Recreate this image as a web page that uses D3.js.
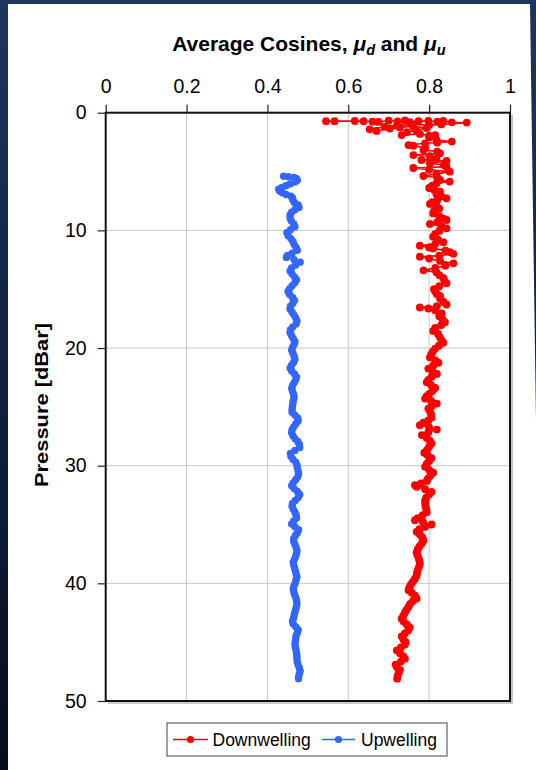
<!DOCTYPE html>
<html>
<head>
<meta charset="utf-8">
<script src="https://cdn.jsdelivr.net/npm/d3@7"></script>
<style>
  html, body { margin: 0; padding: 0; background: #0b1630; }
  svg { display: block; }
  text { font-family: "Liberation Sans", Arial, sans-serif; fill: #000; }
</style>
</head>
<body>
<svg id="chart" width="536" height="770"></svg>
<script>
// Average cosine profiles versus pressure
const xTicks = [0, 0.2, 0.4, 0.6, 0.8, 1];
const xTickLabels = ["0", "0.2", "0.4", "0.6", "0.8", "1"];
const yTicks = [0, 10, 20, 30, 40, 50];
const yTickLabels = ["0", "10", "20", "30", "40", "50"];
const seriesNames = ["Downwelling", "Upwelling"];
const seriesColors = ["#ff0000", "#3366ff"];

// Downwelling average cosine (mu_d): pressure [dBar] and value
const downPressure = [
  0.72, 0.72, 0.70, 0.72, 0.76, 0.78, 0.68, 0.74, 0.66, 0.80, 0.72, 0.70, 0.76, 0.70, 0.82, 0.84,
  1.00, 1.05, 1.00, 1.10, 1.20, 1.41, 1.55, 1.35, 1.25, 1.15, 1.30, 1.50, 1.65, 1.90, 1.80, 1.95,
  1.90, 2.10, 2.32, 2.45, 2.55, 2.60, 2.75, 2.80, 3.00, 3.17, 3.30, 3.45, 3.60, 3.70, 3.90, 4.02,
  4.10, 4.30, 4.45, 4.59, 4.70, 4.85, 5.01, 5.20, 5.38, 5.50, 5.72, 5.85, 6.00, 6.20, 6.40, 6.55,
  6.70, 6.90, 7.10, 7.28, 7.45, 7.60, 7.75, 7.95, 8.15, 8.35, 8.56, 8.80, 9.00, 9.12, 9.30, 9.45,
  9.65, 9.83, 10.05, 10.30, 10.54, 10.80, 11.00, 11.15, 11.30, 11.45, 11.55, 11.70, 11.85, 12.00,
  12.15, 12.24, 12.40, 12.60, 12.80, 13.00, 13.20, 13.40, 13.55, 13.80, 14.05, 14.30, 14.50, 14.75,
  15.00, 15.20, 15.40, 15.60, 15.80, 16.05, 16.30, 16.45, 16.55, 16.64, 16.80, 17.05, 17.30, 17.55,
  17.80, 18.05, 18.30, 18.55, 18.80, 19.05, 19.30, 19.55, 19.80, 20.05, 20.30, 20.55, 20.80, 21.05,
  21.25, 21.50, 21.75, 22.00, 22.20, 22.45, 22.70, 22.90, 23.15, 23.40, 23.65, 23.90, 24.10, 24.30,
  24.50, 24.72, 24.95, 25.15, 25.40, 25.65, 25.90, 26.15, 26.35, 26.56, 26.75, 26.93, 27.15, 27.40,
  27.65, 27.90, 28.12, 28.40, 28.65, 28.90, 29.10, 29.35, 29.60, 29.85, 30.10, 30.35, 30.60, 30.85,
  31.10, 31.30, 31.50, 31.66, 31.80, 32.00, 32.22, 32.45, 32.70, 32.95, 33.20, 33.45, 33.70, 33.95,
  34.20, 34.45, 34.63, 34.80, 35.00, 35.20, 35.40, 35.62, 35.85, 36.10, 36.35, 36.60, 36.85, 37.10,
  37.35, 37.60, 37.85, 38.10, 38.35, 38.60, 38.85, 39.10, 39.35, 39.60, 39.85, 40.10, 40.35, 40.58,
  40.80, 41.05, 41.29, 41.50, 41.75, 42.00, 42.25, 42.50, 42.75, 43.00, 43.25, 43.50, 43.75, 44.00,
  44.25, 44.50, 44.75, 45.00, 45.20, 45.45, 45.69, 45.95, 46.20, 46.40, 46.65, 46.90, 47.10, 47.35,
  47.60, 47.85, 48.10
];
const downCosine = [
  0.545, 0.566, 0.616, 0.638, 0.660, 0.675, 0.700, 0.722, 0.740, 0.752, 0.774, 0.798, 0.820, 0.835, 0.856, 0.893,
  0.830, 0.800, 0.760, 0.720, 0.690, 0.653, 0.670, 0.703, 0.728, 0.760, 0.794, 0.768, 0.745, 0.732, 0.777, 0.800,
  0.815, 0.800, 0.818, 0.856, 0.820, 0.790, 0.749, 0.761, 0.790, 0.786, 0.820, 0.827, 0.761, 0.802, 0.818, 0.781,
  0.843, 0.802, 0.836, 0.843, 0.761, 0.800, 0.851, 0.818, 0.786, 0.820, 0.827, 0.851, 0.818, 0.808, 0.800, 0.812,
  0.827, 0.818, 0.830, 0.843, 0.820, 0.808, 0.802, 0.818, 0.825, 0.812, 0.810, 0.825, 0.835, 0.843, 0.820, 0.802,
  0.830, 0.843, 0.825, 0.815, 0.810, 0.822, 0.835, 0.815, 0.777, 0.800, 0.810, 0.840, 0.851, 0.860,
  0.825, 0.777, 0.800, 0.827, 0.860, 0.840, 0.815, 0.786, 0.818, 0.825, 0.835, 0.838, 0.843, 0.825,
  0.812, 0.815, 0.819, 0.827, 0.827, 0.835, 0.843, 0.819, 0.777, 0.798, 0.815, 0.831, 0.825, 0.833,
  0.839, 0.830, 0.815, 0.810, 0.822, 0.826, 0.830, 0.835, 0.824, 0.815, 0.809, 0.805, 0.802, 0.815,
  0.823, 0.810, 0.798, 0.808, 0.819, 0.806, 0.798, 0.794, 0.805, 0.815, 0.808, 0.800, 0.794, 0.790,
  0.805, 0.819, 0.806, 0.798, 0.802, 0.805, 0.806, 0.798, 0.786, 0.777, 0.800, 0.819, 0.798, 0.782,
  0.794, 0.802, 0.806, 0.800, 0.795, 0.788, 0.796, 0.806, 0.800, 0.794, 0.790, 0.800, 0.810, 0.803,
  0.797, 0.794, 0.780, 0.765, 0.769, 0.790, 0.806, 0.800, 0.793, 0.790, 0.790, 0.791, 0.793, 0.794,
  0.784, 0.772, 0.765, 0.785, 0.806, 0.790, 0.776, 0.769, 0.777, 0.783, 0.786, 0.782, 0.776, 0.772,
  0.769, 0.771, 0.774, 0.776, 0.777, 0.775, 0.772, 0.770, 0.769, 0.765, 0.760, 0.755, 0.751, 0.749,
  0.757, 0.765, 0.769, 0.760, 0.753, 0.749, 0.744, 0.740, 0.736, 0.732, 0.737, 0.745, 0.752, 0.748,
  0.740, 0.732, 0.736, 0.742, 0.740, 0.730, 0.720, 0.728, 0.736, 0.740, 0.730, 0.717, 0.720, 0.728,
  0.725, 0.722, 0.721
];

// Upwelling average cosine (mu_u): pressure [dBar] and value
const upPressure = [
  5.40, 5.45, 5.50, 5.60, 5.75, 5.90, 6.05, 6.20, 6.35, 6.50, 6.65, 6.80, 6.95, 7.10, 7.25, 7.45,
  7.65, 7.85, 8.05, 8.25, 8.45, 8.70, 8.95, 9.20, 9.45, 9.70, 9.95, 10.20, 10.45, 10.70, 10.95, 11.20,
  11.45, 11.70, 11.95, 12.15, 12.30, 12.50, 12.70, 12.95, 13.20, 13.45, 13.70, 13.95, 14.20, 14.45,
  14.70, 14.95, 15.20, 15.45, 15.70, 15.95, 16.20, 16.45, 16.70, 16.95, 17.20, 17.45, 17.70, 17.95,
  18.20, 18.45, 18.70, 18.95, 19.20, 19.45, 19.70, 19.95, 20.20, 20.45, 20.70, 20.95, 21.20, 21.45,
  21.70, 21.95, 22.20, 22.45, 22.70, 22.95, 23.20, 23.45, 23.70, 23.95, 24.20, 24.45, 24.70, 24.95,
  25.20, 25.45, 25.70, 25.95, 26.20, 26.45, 26.70, 26.95, 27.20, 27.45, 27.70, 27.95, 28.20, 28.45,
  28.70, 28.95, 29.20, 29.45, 29.70, 29.95, 30.20, 30.45, 30.70, 30.95, 31.20, 31.45, 31.70, 31.95,
  32.20, 32.45, 32.70, 32.95, 33.20, 33.45, 33.70, 33.95, 34.20, 34.45, 34.70, 34.95, 35.20, 35.45,
  35.70, 35.95, 36.20, 36.45, 36.70, 36.95, 37.20, 37.45, 37.70, 37.95, 38.20, 38.45, 38.70, 38.95,
  39.20, 39.45, 39.70, 39.95, 40.20, 40.45, 40.70, 40.95, 41.20, 41.45, 41.70, 41.95, 42.20, 42.45,
  42.70, 42.95, 43.20, 43.45, 43.70, 43.95, 44.20, 44.45, 44.70, 44.95, 45.20, 45.45, 45.70, 45.95,
  46.20, 46.45, 46.70, 46.95, 47.20, 47.45, 47.70, 47.95, 48.10
];
const upCosine = [
  0.440, 0.452, 0.466, 0.472, 0.474, 0.468, 0.456, 0.446, 0.436, 0.428, 0.430, 0.437, 0.446, 0.458, 0.462, 0.463,
  0.467, 0.476, 0.478, 0.468, 0.460, 0.456, 0.456, 0.459, 0.465, 0.468, 0.457, 0.448, 0.451, 0.458, 0.463, 0.466,
  0.471, 0.474, 0.461, 0.449, 0.447, 0.466, 0.481, 0.470, 0.460, 0.456, 0.461, 0.467, 0.472, 0.468,
  0.461, 0.455, 0.451, 0.455, 0.462, 0.467, 0.463, 0.457, 0.456, 0.461, 0.466, 0.470, 0.473, 0.471,
  0.463, 0.457, 0.456, 0.460, 0.464, 0.468, 0.466, 0.462, 0.460, 0.463, 0.466, 0.468, 0.465, 0.460,
  0.456, 0.460, 0.467, 0.472, 0.470, 0.466, 0.462, 0.460, 0.462, 0.465, 0.466, 0.464, 0.463, 0.462,
  0.461, 0.461, 0.468, 0.475, 0.476, 0.470, 0.465, 0.461, 0.460, 0.463, 0.468, 0.475, 0.479, 0.480,
  0.468, 0.457, 0.458, 0.463, 0.470, 0.473, 0.474, 0.476, 0.477, 0.475, 0.470, 0.464, 0.460, 0.466,
  0.474, 0.480, 0.476, 0.469, 0.462, 0.461, 0.464, 0.468, 0.471, 0.472, 0.465, 0.460, 0.468, 0.477,
  0.474, 0.469, 0.465, 0.465, 0.468, 0.471, 0.473, 0.472, 0.470, 0.467, 0.464, 0.465, 0.467, 0.469,
  0.471, 0.473, 0.471, 0.469, 0.466, 0.464, 0.465, 0.467, 0.470, 0.472, 0.473, 0.472, 0.470, 0.468,
  0.466, 0.465, 0.462, 0.464, 0.470, 0.476, 0.474, 0.471, 0.470, 0.469, 0.468, 0.469, 0.471, 0.472,
  0.473, 0.473, 0.474, 0.476, 0.479, 0.481, 0.479, 0.477, 0.477
];

const W = 536, H = 770;
const plot = { left: 105.7, right: 510, top: 112.7, bottom: 701 };

const svg = d3.select("#chart");

// dark slide background with a white panel on top
const defs = svg.append("defs");
const bg = defs.append("linearGradient").attr("id", "bgGrad")
  .attr("x1", 0).attr("y1", 0).attr("x2", 0).attr("y2", 1);
bg.append("stop").attr("offset", "0%").attr("stop-color", "#1d3560");
bg.append("stop").attr("offset", "50%").attr("stop-color", "#0f2142");
bg.append("stop").attr("offset", "100%").attr("stop-color", "#070d1a");
svg.append("rect").attr("width", W).attr("height", H).attr("fill", "url(#bgGrad)");
svg.append("polygon")
  .attr("points", "8,4 530,4 536,420 536,770 8,770")
  .attr("fill", "#ffffff");

const x = d3.scaleLinear().domain([0, 1]).range([plot.left, plot.right]);
const y = d3.scaleLinear().domain([0, 50]).range([plot.top, plot.bottom]);

// gridlines
const grid = svg.append("g").attr("stroke", "#c8c8c8").attr("stroke-width", 1);
grid.selectAll("line.gx").data(xTicks.slice(1, -1)).join("line")
  .attr("x1", d => x(d)).attr("x2", d => x(d))
  .attr("y1", plot.top).attr("y2", plot.bottom);
grid.selectAll("line.gy").data(yTicks.slice(1, -1)).join("line")
  .attr("x1", plot.left).attr("x2", plot.right)
  .attr("y1", d => y(d)).attr("y2", d => y(d));

// series: thin connecting line plus round markers
const series = [
  { name: seriesNames[0], color: seriesColors[0], p: downPressure, v: downCosine, r: 3.9 },
  { name: seriesNames[1], color: seriesColors[1], p: upPressure, v: upCosine, r: 3.7 }
];
const line = d3.line().x(d => x(d[1])).y(d => y(d[0]));
series.forEach(s => {
  const pts = s.p.map((p, i) => [p, s.v[i]]);
  const g = svg.append("g");
  g.append("path").datum(pts).attr("d", line)
    .attr("fill", "none").attr("stroke", s.color).attr("stroke-width", 1.6);
  g.selectAll("circle").data(pts).join("circle")
    .attr("cx", d => x(d[1])).attr("cy", d => y(d[0])).attr("r", s.r)
    .attr("fill", s.color);
});

// plot frame with a soft shadow on the right and bottom
svg.append("path")
  .attr("d", `M${plot.right + 2},${plot.top + 2}V${plot.bottom + 2}H${plot.left + 2}`)
  .attr("fill", "none").attr("stroke", "#9a9a9a").attr("stroke-width", 1.2);
svg.append("rect")
  .attr("x", plot.left).attr("y", plot.top)
  .attr("width", plot.right - plot.left).attr("height", plot.bottom - plot.top)
  .attr("fill", "none").attr("stroke", "#111").attr("stroke-width", 2);

// axes
const xAxis = d3.axisTop(x).tickValues(xTicks)
  .tickFormat((d, i) => xTickLabels[i]).tickSize(8).tickPadding(12);
const gx = svg.append("g").attr("transform", `translate(0,${plot.top})`).call(xAxis);
const yAxis = d3.axisLeft(y).tickValues(yTicks)
  .tickFormat((d, i) => yTickLabels[i]).tickSize(8).tickPadding(11);
const gy = svg.append("g").attr("transform", `translate(${plot.left},0)`).call(yAxis);
[gx, gy].forEach(g => {
  g.select(".domain").remove();
  g.selectAll(".tick line").attr("stroke", "#222").attr("stroke-width", 1.2);
  g.selectAll(".tick text").attr("font-size", 19.5)
    .attr("font-family", "Liberation Sans, Arial, sans-serif").attr("fill", "#000");
});

// chart title with italic mu symbols and subscripts
const title = svg.append("text")
  .attr("x", (plot.left + plot.right) / 2 + 1).attr("y", 50.5)
  .attr("text-anchor", "middle").attr("font-size", 21).attr("font-weight", "bold");
title.append("tspan").text("Average Cosines, ");
title.append("tspan").attr("font-style", "italic").text("μ");
title.append("tspan").attr("font-style", "italic").attr("font-size", 14.5).attr("dy", 4).text("d");
title.append("tspan").attr("dy", -4).text(" and ");
title.append("tspan").attr("font-style", "italic").text("μ");
title.append("tspan").attr("font-style", "italic").attr("font-size", 14.5).attr("dy", 4).text("u");

// y axis title
svg.append("text")
  .attr("transform", "translate(48,405) rotate(-90)")
  .attr("text-anchor", "middle").attr("font-size", 19).attr("font-weight", "bold")
  .attr("textLength", 164).attr("lengthAdjust", "spacingAndGlyphs")
  .text("Pressure [dBar]");

// legend
const lg = svg.append("g");
lg.append("rect").attr("x", 167).attr("y", 723).attr("width", 280).attr("height", 33)
  .attr("fill", "#fff").attr("stroke", "#444").attr("stroke-width", 1);
const legendItems = [
  { x0: 173, x1: 208, tx: 212.5 },
  { x0: 322, x1: 355, tx: 361 }
];
series.forEach((s, i) => {
  const it = legendItems[i];
  lg.append("line").attr("x1", it.x0).attr("x2", it.x1).attr("y1", 739.5).attr("y2", 739.5)
    .attr("stroke", s.color).attr("stroke-width", 1.6);
  lg.append("circle").attr("cx", (it.x0 + it.x1) / 2).attr("cy", 739.5).attr("r", 3.6)
    .attr("fill", s.color);
  lg.append("text").attr("x", it.tx).attr("y", 745.5).attr("font-size", 17.5).text(s.name);
});
</script>
</body>
</html>
